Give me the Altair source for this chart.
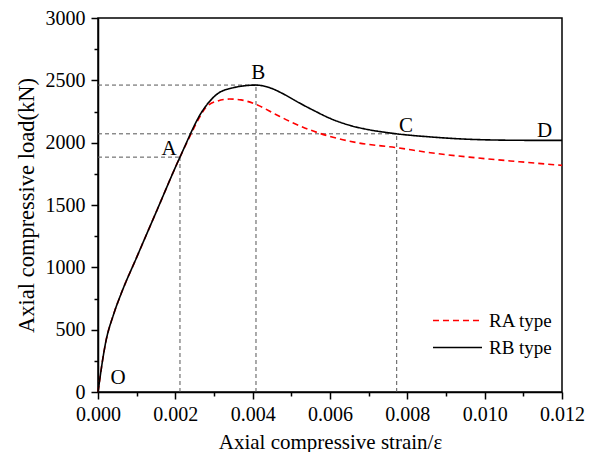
import altair as alt
import pandas as pd

FONT = "Liberation Serif"

SERIES = ["RA type", "RB type"]

STRAIN_RB = [0, 0.0002, 0.0004, 0.0006, 0.001, 0.0015, 0.00212, 0.00271, 0.00307,
             0.0035, 0.004086, 0.0044, 0.0048, 0.0052, 0.0056, 0.006, 0.0065, 0.007, 0.0075,
             0.007725, 0.0086, 0.0096, 0.0109, 0.012]
LOAD_RB = [0, 400, 620, 790, 1080, 1440, 1884, 2259, 2387,
           2441, 2462, 2445, 2390, 2320, 2255, 2195, 2140, 2104, 2080,
           2071, 2046, 2027, 2019, 2018]

STRAIN_RA = [0, 0.0002, 0.0004, 0.0006, 0.001, 0.0015, 0.00212, 0.0024, 0.00255,
             0.0028, 0.0031, 0.0034, 0.0037, 0.0041, 0.0046, 0.005, 0.0055, 0.006,
             0.0067, 0.007725, 0.0086, 0.0096, 0.0109, 0.012]
LOAD_RA = [0, 400, 620, 790, 1080, 1440, 1884, 2066, 2160,
           2285, 2335, 2350, 2343, 2305, 2226, 2165, 2100, 2050,
           2000, 1960, 1919, 1884, 1847, 1818]

REF_STRAIN = [0.00212, 0.004086, 0.007725]
REF_LOAD = [1884, 2462, 2071]

LABELS = ["O", "A", "B", "C", "D"]
LABEL_STRAIN = [0.000517, 0.001836, 0.004146, 0.007966, 0.011547]
LABEL_LOAD = [116, 1953, 2561, 2131, 2095]

X_TICKS = [0, 0.002, 0.004, 0.006, 0.008, 0.010, 0.012]
X_MINOR = [0.001, 0.003, 0.005, 0.007, 0.009, 0.011]
Y_TICKS = [0, 500, 1000, 1500, 2000, 2500, 3000]
Y_MINOR = [250, 750, 1250, 1750, 2250, 2750]

curves = pd.DataFrame(
    {"strain": STRAIN_RA + STRAIN_RB,
     "load": LOAD_RA + LOAD_RB,
     "series": [SERIES[0]] * len(STRAIN_RA) + [SERIES[1]] * len(STRAIN_RB)}
)

rows = []
for s, l in zip(REF_STRAIN, REF_LOAD):
    rows.append({"x": 0.0, "x2": s, "y": l, "y2": l})
    rows.append({"x": s, "x2": s, "y": 0.0, "y2": l})
refs = pd.DataFrame(rows)

labels = pd.DataFrame({"t": LABELS, "strain": LABEL_STRAIN, "load": LABEL_LOAD})

xs = alt.Scale(domain=[0, 0.012], nice=False, zero=False)
ys = alt.Scale(domain=[0, 3000], nice=False, zero=False)

common_axis = dict(grid=False, domainColor="black", tickColor="black", labelColor="black",
                   titleColor="black", labelFont=FONT, titleFont=FONT,
                   titleFontWeight="normal", domainWidth=1.5, tickWidth=1.5,
                   labelFlush=False, labelOverlap=False)

x_axis = alt.Axis(values=X_TICKS, format=".3f", title="Axial compressive strain/ε",
                  orient="bottom", tickSize=7, labelPadding=5, labelFontSize=20,
                  titleFontSize=21, titlePadding=7, **common_axis)
y_axis = alt.Axis(values=Y_TICKS, format="d", title="Axial compressive load(kN)",
                  orient="left", tickSize=7, labelPadding=6, labelFontSize=20,
                  titleFontSize=22.5, titlePadding=7, **common_axis)

x_minor = alt.Axis(values=X_MINOR, labels=False, domain=False, title=None, orient="bottom",
                   tickSize=4, tickColor="black", tickWidth=1.5, grid=False)
y_minor = alt.Axis(values=Y_MINOR, labels=False, domain=False, title=None, orient="left",
                   tickSize=4, tickColor="black", tickWidth=1.5, grid=False)

rules = alt.Chart(refs).mark_rule(color="#555555", strokeWidth=1, strokeDash=[4, 3]).encode(
    x=alt.X("x:Q", scale=xs, axis=None),
    x2="x2:Q",
    y=alt.Y("y:Q", scale=ys, axis=None),
    y2="y2:Q",
)

lines = alt.Chart(curves).mark_line(strokeWidth=1.6, interpolate="monotone").encode(
    x=alt.X("strain:Q", scale=xs, axis=x_axis),
    y=alt.Y("load:Q", scale=ys, axis=y_axis),
    color=alt.Color("series:N", scale=alt.Scale(domain=SERIES, range=["#ff0000", "#000000"]),
                    legend=alt.Legend(title=None, orient="none", legendX=350, legendY=293,
                                      symbolType="M-3,0H3", symbolSize=267,
                                      symbolStrokeWidth=1.6, labelFont=FONT,
                                      labelFontSize=19, labelColor="black",
                                      labelOffset=22, rowPadding=7, padding=0)),
    strokeDash=alt.StrokeDash("series:N",
                              scale=alt.Scale(domain=SERIES, range=[[6, 4], [1, 0]]),
                              legend=None),
    detail="series:N",
)

text = alt.Chart(labels).mark_text(font=FONT, fontSize=21, color="black",
                                   align="center", baseline="middle").encode(
    x=alt.X("strain:Q", scale=xs, axis=None),
    y=alt.Y("load:Q", scale=ys, axis=None),
    text="t:N",
)

minor = alt.Chart(refs).mark_point(opacity=0).encode(
    x=alt.X("x:Q", scale=xs, axis=x_minor),
    y=alt.Y("y:Q", scale=ys, axis=y_minor),
)

chart = alt.layer(rules, lines, text, minor).resolve_axis(
    x="independent", y="independent"
).properties(
    width=464, height=374,
    padding={"left": 90, "top": 10, "right": 28, "bottom": 60},
    autosize=alt.AutoSizeParams(type="none"),
    background="white",
).configure_view(stroke="black", strokeWidth=1.5)

chart.save("out.html", embed_options={"renderer": "svg", "actions": False})
